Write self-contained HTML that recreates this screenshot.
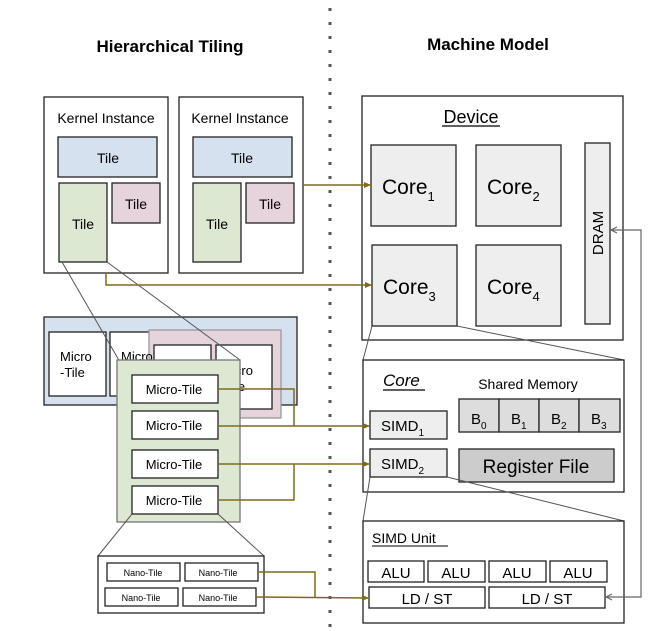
<!DOCTYPE html>
<html><head><meta charset="utf-8"><style>
html,body{margin:0;padding:0;background:#fff}
svg{display:block;font-family:"Liberation Sans",Arial,sans-serif}
</style></head><body>
<svg width="662" height="631" viewBox="0 0 662 631" xmlns="http://www.w3.org/2000/svg">
<defs>
<marker id="ao" markerWidth="8" markerHeight="8" refX="7" refY="3" orient="auto" markerUnits="userSpaceOnUse"><path d="M0,0 L7,3 L0,6 z" fill="#7f6a1a"/></marker>
</defs>
<text x="170" y="52" font-size="17" font-weight="bold" text-anchor="middle">Hierarchical Tiling</text>
<text x="488" y="50" font-size="17" font-weight="bold" text-anchor="middle">Machine Model</text>
<line x1="330" y1="8" x2="330" y2="631" stroke="#555" stroke-width="3" stroke-dasharray="3,11"/>

<g stroke="#222" stroke-width="1.3">
<rect x="44" y="97" width="124" height="176" fill="#fff"/>
<rect x="58" y="137" width="99" height="40" fill="#d6e1f0"/>
<rect x="59" y="183" width="48" height="79" fill="#dde8d3"/>
<rect x="112" y="183" width="48" height="40" fill="#e5d4dc"/>
<rect x="179" y="97" width="124" height="176" fill="#fff"/>
<rect x="193" y="137" width="99" height="40" fill="#d6e1f0"/>
<rect x="193" y="183" width="48" height="79" fill="#dde8d3"/>
<rect x="246" y="183" width="48" height="40" fill="#e5d4dc"/>
</g>
<g font-size="14" text-anchor="middle">
<text x="106" y="123">Kernel Instance</text>
<text x="240" y="123">Kernel Instance</text>
<text x="108" y="163">Tile</text><text x="83" y="229">Tile</text><text x="136" y="209">Tile</text>
<text x="242" y="163">Tile</text><text x="217" y="229">Tile</text><text x="270" y="209">Tile</text>
</g>

<g stroke="#222" stroke-width="1.3">
<rect x="44" y="317" width="253" height="88" fill="#d6e1f0"/>
<rect x="49" y="332" width="57" height="64" fill="#fff"/>
<rect x="110" y="332" width="140" height="64" fill="#fff"/>
<rect x="149" y="330" width="132" height="88" fill="#e5d4dc" stroke="#999"/>
<rect x="154" y="345" width="57" height="64" fill="#fff"/>
<rect x="216" y="345" width="56" height="64" fill="#fff"/>
</g>
<g font-size="13">
<text x="60" y="361">Micro</text><text x="60" y="377">-Tile</text>
<text x="121" y="361">Micro</text>
<text x="232" y="375">icro</text><text x="232" y="391">ile</text>
</g>
<line x1="62" y1="262" x2="120" y2="362" stroke="#555" stroke-width="1"/>
<line x1="107" y1="262" x2="240" y2="360" stroke="#555" stroke-width="1"/>
<rect x="117" y="360" width="123" height="162" fill="#dde8d3" stroke="#777" stroke-width="1.3"/>
<g stroke="#222" stroke-width="1.3" fill="#fff">
<rect x="132" y="375" width="86" height="28"/>
<rect x="132" y="411" width="86" height="28"/>
<rect x="132" y="450" width="86" height="28"/>
<rect x="132" y="486" width="86" height="28"/>
</g>
<g font-size="13" text-anchor="middle">
<text x="174" y="394">Micro-Tile</text><text x="174" y="430">Micro-Tile</text>
<text x="174" y="469">Micro-Tile</text><text x="174" y="505">Micro-Tile</text>
</g>
<line x1="132" y1="514" x2="98" y2="556" stroke="#555"/>
<line x1="218" y1="514" x2="264" y2="556" stroke="#555"/>
<g stroke="#222" stroke-width="1.3" fill="#fff">
<rect x="98" y="556" width="166" height="57"/>
<rect x="107" y="563" width="73" height="18"/>
<rect x="185" y="563" width="73" height="18"/>
<rect x="105" y="588" width="73" height="18"/>
<rect x="183" y="588" width="73" height="18"/>
</g>
<g font-size="9" text-anchor="middle">
<text x="143" y="576">Nano-Tile</text><text x="218" y="576">Nano-Tile</text>
<text x="141" y="601">Nano-Tile</text><text x="218" y="601">Nano-Tile</text>
</g>

<g stroke="#222" stroke-width="1.3">
<rect x="362" y="96" width="261" height="244" fill="#fff"/>
<rect x="371" y="145" width="85" height="81" fill="#eee"/>
<rect x="476" y="145" width="85" height="81" fill="#eee"/>
<rect x="372" y="245" width="85" height="81" fill="#eee"/>
<rect x="476" y="245" width="85" height="81" fill="#eee"/>
<rect x="585" y="143" width="25" height="181" fill="#eee"/>
</g>
<text x="471" y="123" font-size="18" text-anchor="middle">Device</text>
<line x1="442" y1="126" x2="500" y2="126" stroke="#000" stroke-width="1.2"/>
<g font-size="21">
<text x="382" y="194">Core<tspan font-size="13" dy="7">1</tspan></text>
<text x="487" y="194">Core<tspan font-size="13" dy="7">2</tspan></text>
<text x="383" y="294">Core<tspan font-size="13" dy="7">3</tspan></text>
<text x="487" y="294">Core<tspan font-size="13" dy="7">4</tspan></text>
</g>
<text transform="translate(603,233) rotate(-90)" font-size="15" text-anchor="middle">DRAM</text>

<line x1="372" y1="326" x2="363" y2="360" stroke="#555"/>
<line x1="457" y1="326" x2="624" y2="360" stroke="#555"/>
<g stroke="#222" stroke-width="1.3">
<rect x="363" y="360" width="261" height="132" fill="#fff"/>
<rect x="370" y="411" width="77" height="28" fill="#eee"/>
<rect x="370" y="449" width="77" height="28" fill="#eee"/>
<rect x="459" y="399" width="40" height="33" fill="#ddd"/>
<rect x="499" y="399" width="40" height="33" fill="#ddd"/>
<rect x="539" y="399" width="40" height="33" fill="#ddd"/>
<rect x="579" y="399" width="41" height="33" fill="#ddd"/>
<rect x="459" y="449" width="155" height="33" fill="#ccc"/>
</g>
<text x="383" y="386" font-size="17" font-style="italic">Core</text>
<line x1="383" y1="390" x2="425" y2="390" stroke="#000" stroke-width="1.2"/>
<text x="528" y="389" font-size="14" text-anchor="middle">Shared Memory</text>
<g font-size="15">
<text x="471" y="424">B<tspan font-size="10" dy="5">0</tspan></text>
<text x="511" y="424">B<tspan font-size="10" dy="5">1</tspan></text>
<text x="551" y="424">B<tspan font-size="10" dy="5">2</tspan></text>
<text x="591" y="424">B<tspan font-size="10" dy="5">3</tspan></text>
<text x="381" y="431">SIMD<tspan font-size="10" dy="5">1</tspan></text>
<text x="381" y="469">SIMD<tspan font-size="10" dy="5">2</tspan></text>
</g>
<text x="536" y="473" font-size="19" text-anchor="middle">Register File</text>

<line x1="370" y1="477" x2="363" y2="521" stroke="#555"/>
<line x1="447" y1="477" x2="624" y2="521" stroke="#555"/>
<g stroke="#222" stroke-width="1.3" fill="#fff">
<rect x="363" y="521" width="261" height="102"/>
<rect x="368" y="561" width="56" height="21"/>
<rect x="428" y="561" width="57" height="21"/>
<rect x="489" y="561" width="57" height="21"/>
<rect x="550" y="561" width="57" height="21"/>
<rect x="369" y="587" width="116" height="21"/>
<rect x="489" y="587" width="116" height="21"/>
</g>
<text x="372" y="543" font-size="14">SIMD Unit</text>
<line x1="372" y1="546" x2="448" y2="546" stroke="#000" stroke-width="1.1"/>
<g font-size="15" text-anchor="middle">
<text x="396" y="578">ALU</text><text x="456" y="578">ALU</text><text x="517" y="578">ALU</text><text x="578" y="578">ALU</text>
<text x="427" y="604">LD / ST</text><text x="547" y="604">LD / ST</text>
</g>

<g stroke="#7f6a1a" stroke-width="1.5" fill="none">
<polyline points="303,185 371,185" marker-end="url(#ao)"/>
<polyline points="106,273 106,285 372,285" marker-end="url(#ao)"/>
<polyline points="218,389 294,389 294,426"/>
<polyline points="218,426 370,426" marker-end="url(#ao)"/>
<polyline points="218,464 370,464" marker-end="url(#ao)"/>
<polyline points="218,500 294,500 294,464"/>
<polyline points="258,572 315,572 315,598"/>
<polyline points="256,597 369,598" marker-end="url(#ao)"/>
</g>
<g stroke="#666" stroke-width="1.2" fill="none">
<polyline points="611,230 641,230 641,597 606,597"/>
<polyline points="617,227 611,230 617,233"/>
<polyline points="612,594 606,597 612,600"/>
</g>
</svg>
</body></html>
